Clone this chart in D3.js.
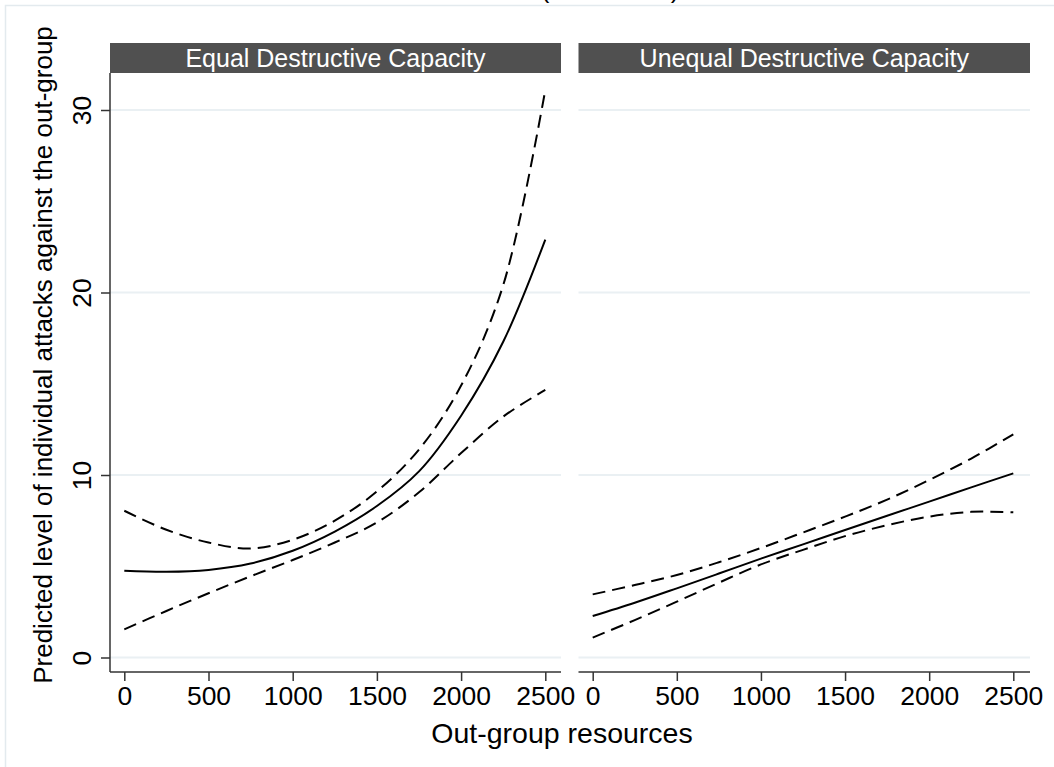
<!DOCTYPE html>
<html>
<head>
<meta charset="utf-8">
<script src="https://cdn.jsdelivr.net/npm/d3@7"></script>
<style>
  body { margin: 0; background: #fff; }
  text { font-family: Helvetica, "Liberation Sans", Arial, sans-serif; fill: #000; }
</style>
</head>
<body>
<svg id="chart" width="1054" height="767"></svg>
<script>
// data
var resources = [0, 250, 500, 750, 1000, 1250, 1500, 1750, 2000, 2250, 2500]
var panels = ["Equal Destructive Capacity", "Unequal Destructive Capacity"]

// equal destructive capacity
var eqFit   = [4.76, 4.70, 4.80, 5.15, 5.85, 6.90, 8.30, 10.20, 13.25, 17.30, 22.90]
var eqUpper = [8.04, 7.00, 6.30, 5.97, 6.45, 7.50, 9.10, 11.40, 14.90, 20.40, 31.10]
var eqLower = [1.54, 2.55, 3.52, 4.45, 5.34, 6.30, 7.40, 9.05, 11.20, 13.20, 14.66]

// unequal destructive capacity
var uneqFit   = [2.27, 3.00, 3.79, 4.60, 5.42, 6.20, 6.99, 7.77, 8.54, 9.32, 10.09]
var uneqUpper = [3.46, 3.97, 4.52, 5.22, 6.00, 6.85, 7.72, 8.65, 9.73, 10.90, 12.23]
var uneqLower = [1.09, 2.05, 3.06, 4.10, 5.10, 5.90, 6.65, 7.25, 7.72, 7.98, 7.96]

var xTicks = [0, 500, 1000, 1500, 2000, 2500]
var yTicks = [0, 10, 20, 30]

var svg = d3.select("#chart")

// outer graph region border (figure is cropped at top)
svg.append("rect")
  .attr("x", 5.5).attr("y", 5.5)
  .attr("width", 1060).attr("height", 780)
  .attr("fill", "none").attr("stroke", "#e3eaee").attr("stroke-width", 1.5)

// clipped title, only the bottom of the brackets shows
svg.append("text").attr("x", 545).attr("y", -2).attr("font-size", 26).attr("text-anchor", "middle").text("(")
svg.append("text").attr("x", 675).attr("y", -2).attr("font-size", 26).attr("text-anchor", "middle").text(")")

var plotTop = 73, plotBottom = 672
var y = d3.scaleLinear().domain([0, 30]).range([657.5, 110])

var layout = [
  {left: 110, right: 561, x0: 124.3, x1: 545.3, fit: eqFit, upper: eqUpper, lower: eqLower},
  {left: 578.5, right: 1030, x0: 592.7, x1: 1013.3, fit: uneqFit, upper: uneqUpper, lower: uneqLower}
]

layout.forEach(function(p, i) {
  var x = d3.scaleLinear().domain([0, 2500]).range([p.x0, p.x1])
  var g = svg.append("g")

  // grid
  g.selectAll(".grid").data(yTicks).enter().append("line")
    .attr("x1", p.left).attr("x2", p.right)
    .attr("y1", function(d) { return y(d) }).attr("y2", function(d) { return y(d) })
    .attr("stroke", "#eaf0f3").attr("stroke-width", 2)

  // strip
  g.append("rect")
    .attr("x", p.left).attr("y", 43)
    .attr("width", p.right - p.left).attr("height", plotTop - 43)
    .attr("fill", "#505050")
  g.append("text")
    .attr("x", (p.left + p.right) / 2).attr("y", 67)
    .attr("text-anchor", "middle").attr("font-size", 25)
    .style("fill", "#fff")
    .text(panels[i])

  // x axis
  var xAxis = d3.axisBottom(x).tickValues(xTicks).tickSize(9).tickPadding(5).tickFormat(d3.format("d"))
  var ax = g.append("g").attr("transform", "translate(0," + plotBottom + ")").call(xAxis)
  ax.select(".domain").remove()
  ax.append("line").attr("x1", p.left).attr("x2", p.right).attr("stroke", "#333").attr("stroke-width", 1.5)
  ax.selectAll(".tick line").attr("stroke", "#333").attr("stroke-width", 1.5)
  ax.selectAll(".tick text").attr("font-size", 26.5).attr("font-family", null).style("fill", "#000")

  if (i == 0) {
    var yAxis = d3.axisLeft(y).tickValues(yTicks).tickSize(9).tickPadding(0)
    var ay = g.append("g").attr("transform", "translate(" + p.left + ",0)").call(yAxis)
    ay.select(".domain").remove()
    ay.append("line").attr("y1", plotTop).attr("y2", plotBottom).attr("stroke", "#333").attr("stroke-width", 1.5)
    ay.selectAll(".tick line").attr("stroke", "#333").attr("stroke-width", 1.5)
    ay.selectAll(".tick text")
      .attr("font-size", 26.5).attr("font-family", null).style("fill", "#000")
      .attr("x", null).attr("dy", null)
      .attr("text-anchor", "middle")
      .attr("transform", "translate(-19,0) rotate(-90)")
  }

  var line = d3.line()
    .x(function(d, k) { return x(resources[k]) })
    .y(function(d) { return y(d) })
    .curve(d3.curveCatmullRom.alpha(0.5))

  g.append("path").datum(p.upper).attr("d", line)
    .attr("fill", "none").attr("stroke", "#000").attr("stroke-width", 2)
    .attr("stroke-dasharray", "13,7")
  g.append("path").datum(p.lower).attr("d", line)
    .attr("fill", "none").attr("stroke", "#000").attr("stroke-width", 2)
    .attr("stroke-dasharray", "13,7")
  g.append("path").datum(p.fit).attr("d", line)
    .attr("fill", "none").attr("stroke", "#000").attr("stroke-width", 2)
})

// axis titles
svg.append("text")
  .attr("x", 562).attr("y", 743)
  .attr("text-anchor", "middle").attr("font-size", 28.5)
  .text("Out-group resources")

svg.append("text")
  .attr("transform", "translate(52,355) rotate(-90)")
  .attr("text-anchor", "middle").attr("font-size", 26)
  .text("Predicted level of individual attacks against the out-group")
</script>
</body>
</html>
